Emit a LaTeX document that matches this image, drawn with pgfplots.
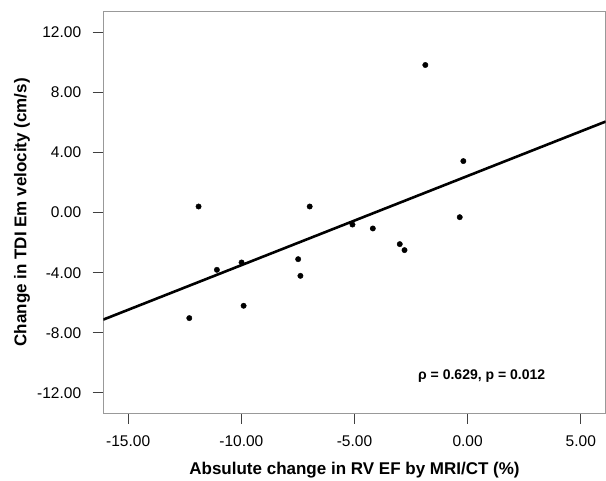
\documentclass[border=0pt]{standalone}
\usepackage{pgfplots}
\pgfplotsset{compat=1.18}
\usepackage{fontspec}
\setmainfont{Liberation Sans}
\begin{document}
\begin{tikzpicture}
\begin{axis}[
  at={(0,0)}, anchor=south west,
  scale only axis, width=502.4pt, height=402pt,
  xmin=-16.1, xmax=6.1, ymin=-13.35, ymax=13.38,
  xtick={-15,-10,-5,0,5}, ytick={-12,-8,-4,0,4,8,12},
  tick align=outside, major tick length=10.6pt,
  xtick pos=bottom, ytick pos=left,
  axis line style={black!40, line width=1pt},
  tick style={black!75, line width=1pt},
  xticklabel={\pgfmathprintnumber[fixed,fixed zerofill,precision=2,assume math mode=true]{\tick}},
  yticklabel={\pgfmathprintnumber[fixed,fixed zerofill,precision=2,assume math mode=true]{\tick}},
  tick label style={font=\fontsize{15.5}{18}\selectfont},
  xticklabel style={yshift=-8pt},
  yticklabel style={xshift=-8pt},
  xlabel={Absulute change in RV EF by MRI/CT (\%)},
  ylabel={Change in TDI Em velocity (cm/s)},
  label style={font=\fontsize{17}{20}\selectfont\bfseries},
  xlabel style={at={(axis description cs:0.5,-0.141)}, anchor=center},
  ylabel style={at={(axis description cs:-0.162,0.5)}, anchor=center, rotate=0},
  clip=true,
]
\addplot[black, line width=2.6pt] coordinates {(-16.1,-7.12) (6.1,6.05)};
\addplot[only marks, mark=*, mark size=2.7pt, black] table {
x y
-11.89 0.40
-6.98 0.40
-5.09 -0.80
-4.19 -1.06
-3.00 -2.10
-2.79 -2.50
-11.08 -3.81
-9.99 -3.32
-7.49 -3.10
-7.39 -4.21
-9.90 -6.20
-12.30 -7.02
-1.87 9.81
-0.19 3.42
-0.35 -0.31
};
\node[font=\fontsize{14}{17}\selectfont\bfseries] at (axis cs:0.62,-10.85) {ρ = 0.629, p = 0.012};
\end{axis}
\pgfresetboundingbox
\path (-103.3pt,-66.7pt) rectangle (502.7pt,413.3pt);
\end{tikzpicture}
\end{document}
